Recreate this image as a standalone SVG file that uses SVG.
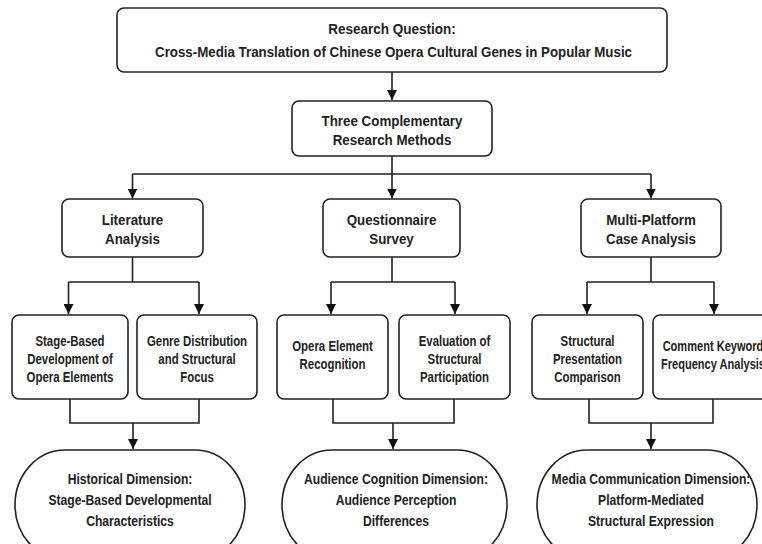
<svg xmlns="http://www.w3.org/2000/svg" width="762" height="544" viewBox="0 0 762 544">
<style>
.box{fill:#fff;stroke:#222;stroke-width:1.6}
.t{font-family:"Liberation Sans",Arial,Helvetica,sans-serif;font-weight:bold;fill:#222;text-anchor:middle}
.f15{font-size:15px}
.f14{font-size:14px}
.c{fill:none;stroke:#222;stroke-width:1.6}
</style>
<defs>
<marker id="ah" viewBox="0 0 10 10" refX="10" refY="5" markerWidth="10" markerHeight="10" markerUnits="userSpaceOnUse" orient="auto">
<path d="M0,0 L10,5 L0,10 z" fill="#111"/>
</marker>
</defs>
<rect width="762" height="544" fill="#fff"/>
<g id="connectors">
<path class="c" d="M392,72 V100" marker-end="url(#ah)"/>
<path class="c" d="M392,156 V174 M132.5,174 H651"/>
<path class="c" d="M132.5,174 V198.5" marker-end="url(#ah)"/>
<path class="c" d="M392,174 V198.5" marker-end="url(#ah)"/>
<path class="c" d="M651,174 V198.5" marker-end="url(#ah)"/>
<path class="c" d="M132.5,257 V282 M68.5,282 H199"/>
<path class="c" d="M68.5,282 V314" marker-end="url(#ah)"/>
<path class="c" d="M199,282 V314" marker-end="url(#ah)"/>
<path class="c" d="M392,257 V282 M331,282 H455"/>
<path class="c" d="M331,282 V314" marker-end="url(#ah)"/>
<path class="c" d="M455,282 V314" marker-end="url(#ah)"/>
<path class="c" d="M651,257 V282 M587,282 H714"/>
<path class="c" d="M587,282 V314" marker-end="url(#ah)"/>
<path class="c" d="M714,282 V314" marker-end="url(#ah)"/>
<path class="c" d="M70,399 V423 H199 V399"/>
<path class="c" d="M133,423 V449" marker-end="url(#ah)"/>
<path class="c" d="M333,399 V423 H454 V399"/>
<path class="c" d="M393,423 V449" marker-end="url(#ah)"/>
<path class="c" d="M589,399 V423 H713 V399"/>
<path class="c" d="M651,423 V449" marker-end="url(#ah)"/>
</g>
<g id="question">
<rect class="box" x="117" y="8" width="550" height="64" rx="7"/>
<text class="t f15" transform="translate(392,34) scale(0.9,1)">Research Question:</text>
<text class="t f15" transform="translate(393.5,57) scale(0.888,1)">Cross-Media Translation of Chinese Opera Cultural Genes in Popular Music</text>
</g>
<g id="methods">
<rect class="box" x="292" y="101" width="200" height="55" rx="7"/>
<text class="t f15" transform="translate(392,126) scale(0.89,1)">Three Complementary</text>
<text class="t f15" transform="translate(392,145) scale(0.89,1)">Research Methods</text>
</g>
<g id="literature">
<rect class="box" x="62" y="199" width="141" height="58" rx="7"/>
<text class="t f15" transform="translate(132.5,225) scale(0.89,1)">Literature</text>
<text class="t f15" transform="translate(132.5,244) scale(0.89,1)">Analysis</text>
</g>
<g id="survey">
<rect class="box" x="323" y="199" width="137" height="58" rx="7"/>
<text class="t f15" transform="translate(391.5,225) scale(0.89,1)">Questionnaire</text>
<text class="t f15" transform="translate(391.5,244) scale(0.89,1)">Survey</text>
</g>
<g id="case">
<rect class="box" x="581" y="199" width="140" height="58" rx="7"/>
<text class="t f15" transform="translate(651,225) scale(0.89,1)">Multi-Platform</text>
<text class="t f15" transform="translate(651,244) scale(0.89,1)">Case Analysis</text>
</g>
<g id="stage-development">
<rect class="box" x="12" y="315" width="116" height="84" rx="7"/>
<text class="t f14" transform="translate(70,346) scale(0.815,1)">Stage-Based</text>
<text class="t f14" transform="translate(70,364) scale(0.815,1)">Development of</text>
<text class="t f14" transform="translate(70,382) scale(0.815,1)">Opera Elements</text>
</g>
<g id="genre-distribution">
<rect class="box" x="137" y="315" width="120" height="84" rx="7"/>
<text class="t f14" transform="translate(197,346) scale(0.815,1)">Genre Distribution</text>
<text class="t f14" transform="translate(197,364) scale(0.815,1)">and Structural</text>
<text class="t f14" transform="translate(197,382) scale(0.815,1)">Focus</text>
</g>
<g id="element-recognition">
<rect class="box" x="277" y="315" width="111" height="84" rx="7"/>
<text class="t f14" transform="translate(332.5,351) scale(0.815,1)">Opera Element</text>
<text class="t f14" transform="translate(332.5,369) scale(0.815,1)">Recognition</text>
</g>
<g id="structural-participation">
<rect class="box" x="399" y="315" width="111" height="84" rx="7"/>
<text class="t f14" transform="translate(454.5,346) scale(0.815,1)">Evaluation of</text>
<text class="t f14" transform="translate(454.5,364) scale(0.815,1)">Structural</text>
<text class="t f14" transform="translate(454.5,382) scale(0.815,1)">Participation</text>
</g>
<g id="presentation-comparison">
<rect class="box" x="532" y="315" width="111" height="84" rx="7"/>
<text class="t f14" transform="translate(587.5,346) scale(0.815,1)">Structural</text>
<text class="t f14" transform="translate(587.5,364) scale(0.815,1)">Presentation</text>
<text class="t f14" transform="translate(587.5,382) scale(0.815,1)">Comparison</text>
</g>
<g id="keyword-frequency">
<rect class="box" x="653" y="315" width="122" height="84" rx="7"/>
<text class="t f14" transform="translate(713,351) scale(0.79,1)">Comment Keyword</text>
<text class="t f14" transform="translate(713,369) scale(0.79,1)">Frequency Analysis</text>
</g>
<g id="historical-dimension">
<rect class="box" x="15" y="450" width="230" height="110" rx="50" ry="55"/>
<text class="t f15" transform="translate(130,484) scale(0.81,1)">Historical Dimension:</text>
<text class="t f15" transform="translate(130,505) scale(0.81,1)">Stage-Based Developmental</text>
<text class="t f15" transform="translate(130,526) scale(0.81,1)">Characteristics</text>
</g>
<g id="audience-dimension">
<rect class="box" x="282" y="450" width="225" height="110" rx="50" ry="55"/>
<text class="t f15" transform="translate(396,484) scale(0.81,1)">Audience Cognition Dimension:</text>
<text class="t f15" transform="translate(396,505) scale(0.81,1)">Audience Perception</text>
<text class="t f15" transform="translate(396,526) scale(0.81,1)">Differences</text>
</g>
<g id="media-dimension">
<rect class="box" x="537" y="450" width="220" height="110" rx="50" ry="55"/>
<text class="t f15" transform="translate(651,484) scale(0.81,1)">Media Communication Dimension:</text>
<text class="t f15" transform="translate(651,505) scale(0.81,1)">Platform-Mediated</text>
<text class="t f15" transform="translate(651,526) scale(0.81,1)">Structural Expression</text>
</g>
</svg>
